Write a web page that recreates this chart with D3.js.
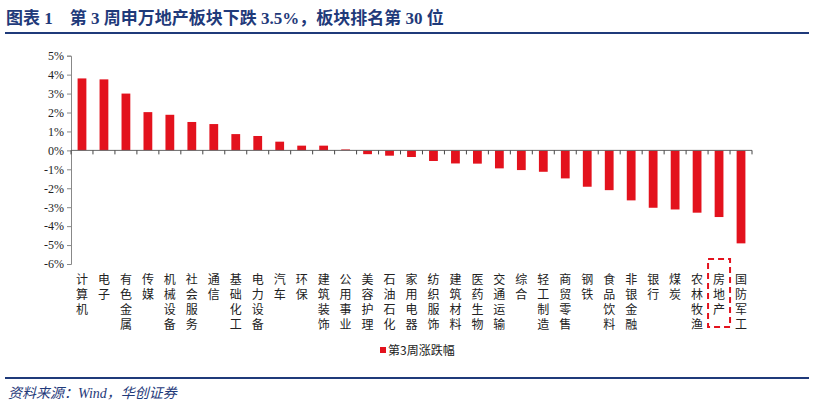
<!DOCTYPE html>
<html><head><meta charset="utf-8">
<script src="https://cdn.jsdelivr.net/npm/d3@7"></script>
<style>body{margin:0;background:#fff}</style>
</head><body><svg width="814" height="409"></svg>
<script>
const categories = ['计算机','电子','有色金属','传媒','机械设备','社会服务','通信','基础化工','电力设备','汽车','环保','建筑装饰','公用事业','美容护理','石油石化','家用电器','纺织服饰','建筑材料','医药生物','交通运输','综合','轻工制造','商贸零售','钢铁','食品饮料','非银金融','银行','煤炭','农林牧渔','房地产','国防军工']
const weekChange = [3.8,3.75,3.0,2.02,1.88,1.5,1.39,0.86,0.76,0.46,0.25,0.25,0.05,-0.2,-0.28,-0.35,-0.56,-0.69,-0.70,-0.95,-1.04,-1.13,-1.48,-1.92,-2.1,-2.64,-3.03,-3.12,-3.29,-3.52,-4.91]
const yTicks = [5,4,3,2,1,0,-1,-2,-3,-4,-5,-6]

const svg = d3.select('svg')
const serif = '"Liberation Serif","Noto Sans CJK SC",serif'
const red = '#e3121d', navy = '#1f3a7a'

// заголовок
svg.append('text').attr('x', 6).attr('y', 24).attr('fill', navy)
  .attr('font-family', serif).attr('font-weight', 'bold').attr('font-size', 17)
  .text('图表 1　第 3 周申万地产板块下跌 3.5%，板块排名第 30 位')
svg.append('line').attr('x1', 5).attr('x2', 809).attr('y1', 33).attr('y2', 33)
  .attr('stroke', navy).attr('stroke-width', 2)
svg.append('line').attr('x1', 5).attr('x2', 809).attr('y1', 378).attr('y2', 378)
  .attr('stroke', navy).attr('stroke-width', 2)
svg.append('text').attr('x', 8).attr('y', 398).attr('fill', navy)
  .attr('font-family', serif).attr('font-style', 'italic').attr('font-size', 14)
  .text('资料来源：Wind，华创证券')

const left = 71, right = 752
const y = d3.scaleLinear().domain([-6, 5]).range([264, 55.7])
const x = d3.scaleBand().domain(categories).range([left, right]).paddingInner(0.6).paddingOuter(0.3)
const step = (right - left) / categories.length

svg.selectAll('.bar').data(weekChange).enter().append('rect')
  .attr('x', (d, i) => x(categories[i]))
  .attr('width', x.bandwidth())
  .attr('y', d => y(Math.max(0, d)))
  .attr('height', d => Math.abs(y(d) - y(0)))
  .attr('fill', red)

const ay = svg.append('g').attr('transform', `translate(${left},0)`)
  .call(d3.axisLeft(y).tickValues(yTicks).tickSize(4).tickFormat(d => d + '%'))
ay.select('.domain').attr('stroke', '#888')
ay.selectAll('line').attr('stroke', '#888')
ay.selectAll('text').attr('font-family', serif).attr('font-size', 12).attr('fill', '#222')

// ось X на нуле
const zy = y(0)
svg.append('line').attr('x1', left).attr('x2', right).attr('y1', zy).attr('y2', zy).attr('stroke', '#666')
d3.range(categories.length + 1).forEach(i => {
  svg.append('line').attr('x1', left + i * step).attr('x2', left + i * step)
    .attr('y1', zy).attr('y2', zy + 4).attr('stroke', '#444')
})

// вертикальные подписи — один текст на категорию
svg.selectAll('.lab').data(categories).enter().append('text')
  .attr('x', d => x(d) + x.bandwidth() / 2).attr('y', 273)
  .style('writing-mode', 'vertical-rl').style('letter-spacing', '3px')
  .attr('font-size', 12).attr('fill', '#222')
  .attr('font-family', '"Noto Sans CJK SC",sans-serif').text(d => d)

const rx = x('房地产') + x.bandwidth() / 2
svg.append('rect').attr('x', rx - 11).attr('y', 259).attr('width', 22).attr('height', 68)
  .attr('fill', 'none').attr('stroke', red).attr('stroke-width', 2).attr('stroke-dasharray', '6,4')

// легенда
svg.append('rect').attr('x', 380).attr('y', 347).attr('width', 6).attr('height', 6).attr('fill', red)
svg.append('text').attr('x', 388).attr('y', 355).attr('font-size', 12).attr('fill', '#222')
  .attr('font-family', '"Noto Sans CJK SC",sans-serif').text('第3周涨跌幅')
</script></body></html>
